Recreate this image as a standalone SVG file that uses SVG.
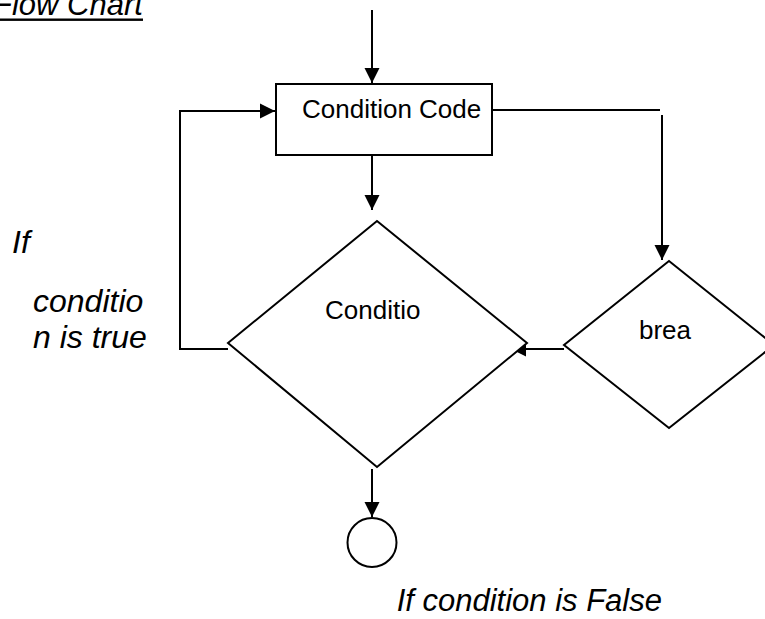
<svg xmlns="http://www.w3.org/2000/svg" width="765" height="619" viewBox="0 0 765 619">
  <style>
    .shape { fill: #fff; stroke: #000; stroke-width: 2; }
    .edge { fill: none; stroke: #000; stroke-width: 2; }
    .lbl { font-family: "Liberation Sans", Arial, sans-serif; font-size: 26px; fill: #000; }
    .note { font-family: "Liberation Sans", Arial, sans-serif; font-size: 31px; font-style: italic; fill: #000; }
    .side { font-size: 32px; }
  </style>
  <defs>
    <marker id="arrow" markerUnits="userSpaceOnUse" markerWidth="16" markerHeight="16" viewBox="0 0 16 16" refX="15" refY="8" orient="auto">
      <path d="M0,0.5 L15,8 L0,15.5 Z" fill="#000"/>
    </marker>
  </defs>

  <rect width="765" height="619" fill="#fff"/>

  <!-- title -->
  <g id="title">
    <text class="note" x="-7" y="15">Flow Chart</text>
    <rect x="0" y="18.5" width="143" height="2.4" fill="#000"/>
  </g>

  <!-- connectors -->
  <g id="connectors">
    <line class="edge" x1="372" y1="10" x2="372" y2="83" marker-end="url(#arrow)"/>
    <line class="edge" x1="372" y1="137" x2="372" y2="210" marker-end="url(#arrow)"/>
    <polyline class="edge" points="228,349 180,349 180,111 275,111" marker-end="url(#arrow)"/>
    <line class="edge" x1="492" y1="110" x2="660" y2="110"/>
    <line class="edge" x1="662" y1="115" x2="662" y2="260" marker-end="url(#arrow)"/>
    <line class="edge" x1="564" y1="349" x2="511" y2="349" marker-end="url(#arrow)"/>
    <line class="edge" x1="372" y1="469" x2="372" y2="517" marker-end="url(#arrow)"/>
  </g>

  <!-- process box -->
  <g id="condition-code">
    <rect class="shape" x="276" y="84" width="216" height="71" fill="none"/>
    <text class="lbl" x="302" y="118">Condition Code</text>
  </g>

  <!-- main decision -->
  <g id="condition">
    <polygon class="shape" points="377,221 527,343 377,467 228,343" fill="none"/>
    <text class="lbl" x="325" y="319">Conditio</text>
  </g>

  <!-- break decision -->
  <g id="break">
    <polygon class="shape" points="669,261 774,345 669,428 564,345" fill="none"/>
    <text class="lbl" x="639" y="339">brea</text>
  </g>

  <!-- terminator -->
  <g id="end">
    <circle class="shape" cx="372" cy="542.5" r="24.5"/>
  </g>

  <!-- side notes -->
  <g id="true-note">
    <text class="note side" x="12" y="253">If</text>
    <text class="note side" x="33" y="312">conditio</text>
    <text class="note side" x="33" y="348">n is true</text>
  </g>
  <g id="false-note">
    <text class="note" x="662" y="611" text-anchor="end">If condition is False</text>
  </g>
</svg>
